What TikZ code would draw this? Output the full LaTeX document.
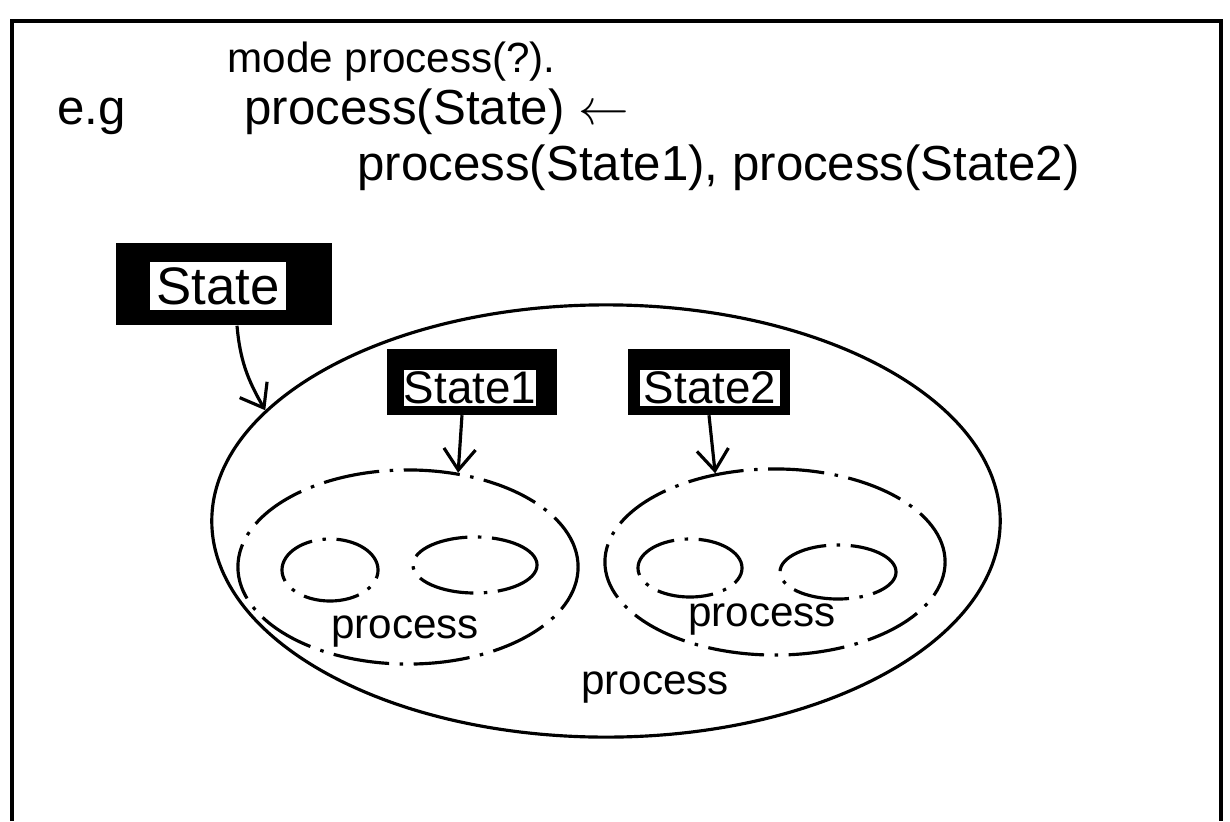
\documentclass[tikz,border=0pt]{standalone}
\usepackage{fontspec}
\setmainfont{Liberation Sans}
\usetikzlibrary{arrows.meta,shapes.geometric}
\tikzset{
	blackbox/.style={rectangle,fill=black,inner sep=0pt},
	whitetag/.style={rectangle,fill=white,inner sep=0pt},
	blob/.style={ellipse,draw,inner sep=0pt,line width=0.9pt},
	handdash/.style={dash pattern=on 16pt off 3pt on 1pt off 3pt},
	ptr/.style={line width=0.9pt,-{Straight Barb[length=6pt,width=9pt]}},
	proclabel/.style={font=\fontsize{12}{14}\selectfont},
}

\begin{document}
\begin{tikzpicture}[x=0.01cm,y=-0.01cm]
			%%%%% START %%%%%
			\useasboundingbox (0,0) rectangle (1230,821);
			
			\draw[line width=0.9pt] (12,821) -- (12,21) -- (1221,21) -- (1221,821);
			
			\node[anchor=base west,font=\fontsize{12}{14}\selectfont] (modeline) at (215,72) {mode process(?).};
			\node[anchor=base west,font=\fontsize{14}{17}\selectfont] (eg) at (45,124) {e.g};
			\node[anchor=base west,font=\fontsize{14}{17}\selectfont] (headline) at (232,124) {process(State) $\leftarrow$};
			\node[anchor=base west,font=\fontsize{14}{17}\selectfont] (bodyline) at (345,180) {process(State1), process(State2)};
			
			\node[blob,minimum width=7.88cm,minimum height=4.32cm] (outer) at (606,521) {};
			\node[blob,handdash,minimum width=3.40cm,minimum height=1.94cm] (procA) at (408,567) {};
			\node[blob,handdash,minimum width=3.40cm,minimum height=1.86cm] (procB) at (775,562) {};
			
			\node[blob,handdash,minimum width=0.96cm,minimum height=0.62cm] (subA1) at (330,570) {};
			\node[blob,handdash,minimum width=1.24cm,minimum height=0.56cm] (subA2) at (475,565) {};
			\node[blob,handdash,minimum width=1.04cm,minimum height=0.58cm] (subB1) at (690,568) {};
			\node[blob,handdash,minimum width=1.16cm,minimum height=0.54cm] (subB2) at (838,572) {};
			
			\node[proclabel] (lblA) at (405,632) {process};
			\node[proclabel] (lblB) at (762,620) {process};
			\node[proclabel] (lblO) at (655,688) {process};
			
			\node[blackbox,minimum width=2.15cm,minimum height=0.82cm] (statebox) at (224,284) {};
			\node[whitetag,minimum width=1.35cm,minimum height=0.48cm,font=\fontsize{15}{17}\selectfont] (statetxt) at (218,286) {State};
			
			\node[blackbox,minimum width=1.70cm,minimum height=0.65cm] (state1box) at (472,382) {};
			\node[whitetag,minimum width=1.30cm,minimum height=0.35cm,font=\fontsize{13}{15}\selectfont] (state1txt) at (470,388) {State1};
			
			\node[blackbox,minimum width=1.62cm,minimum height=0.65cm] (state2box) at (709,382) {};
			\node[whitetag,minimum width=1.40cm,minimum height=0.35cm,font=\fontsize{13}{15}\selectfont] (state2txt) at (710,388) {State2};
			
			\draw[ptr] ([xshift=0.13cm]statebox.south) to[out=-85,in=120] (outer.162);
			\draw[ptr] ([xshift=-0.1cm]state1box.south) -- (procA.62);
			\draw[ptr] (state2box.south) -- (procB.124);
			
			%%%%% END %%%%%
\end{tikzpicture}
\end{document}
